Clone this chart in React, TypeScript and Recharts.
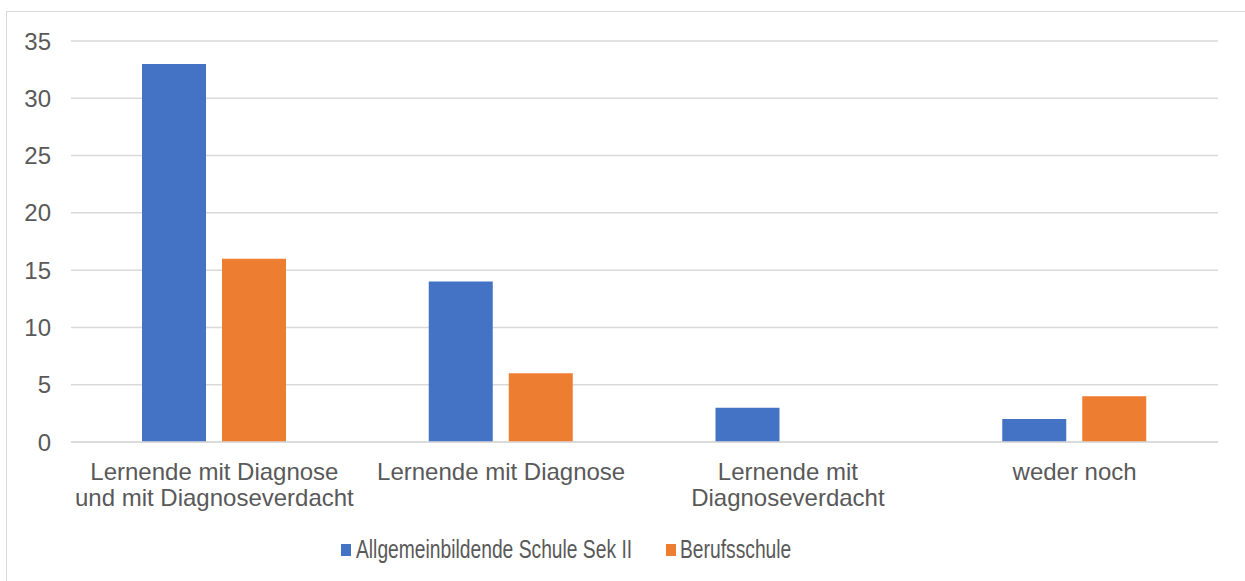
import React from "react";
import { BarChart, Bar, XAxis, YAxis, CartesianGrid, Legend } from "recharts";

const categories = [
  "Lernende mit Diagnose\nund mit Diagnoseverdacht",
  "Lernende mit Diagnose",
  "Lernende mit\nDiagnoseverdacht",
  "weder noch",
];
const seriesNames = ["Allgemeinbildende Schule Sek II", "Berufsschule"];
const sek2Values = [33, 14, 3, 2];
const berufsValues = [16, 6, 0, 4];
const yTicks = [0, 5, 10, 15, 20, 25, 30, 35];

const colors = ["#4472C4", "#ED7D31"];
const FONT = '"Liberation Sans", Arial, sans-serif';

const data = categories.map((c, i) => ({
  name: c,
  sek2: sek2Values[i],
  beruf: berufsValues[i],
}));

const XTick = (props: any) => {
  const { x, y, payload } = props;
  const lines = String(payload.value).split("\n");
  return (
    <text x={x} y={y} textAnchor="middle" fill="#595959" fontSize={24} fontFamily={FONT}>
      {lines.map((l, i) => (
        <tspan key={i} x={x} dy={i === 0 ? 30 : 26}>
          {l}
        </tspan>
      ))}
    </text>
  );
};

const LegendContent = () => {
  const items = [
    { name: seriesNames[0], color: colors[0], sq: 341, tx: 356 },
    { name: seriesNames[1], color: colors[1], sq: 666, tx: 680 },
  ];
  return (
    <div style={{ position: "relative", width: 1245, height: 40 }}>
      {items.map((it) => (
        <React.Fragment key={it.name}>
          <div
            style={{
              position: "absolute",
              left: it.sq,
              top: 15,
              width: 10,
              height: 12,
              background: it.color,
            }}
          />
          <div
            style={{
              position: "absolute",
              left: it.tx,
              top: 5,
              fontSize: 25,
              lineHeight: "30px",
              fontFamily: FONT,
              color: "#595959",
              whiteSpace: "nowrap",
              transform: "scaleX(0.77)",
              transformOrigin: "left center",
            }}
          >
            {it.name}
          </div>
        </React.Fragment>
      ))}
    </div>
  );
};

export default function App() {
  return (
    <div
      style={{
        position: "absolute",
        left: 0,
        top: 0,
        width: 1245,
        height: 581,
        overflow: "hidden",
        background: "#fff",
      }}
    >
      <div
        style={{
          position: "absolute",
          left: 6,
          top: 11,
          width: 1260,
          height: 600,
          border: "1px solid #D9D9D9",
          boxSizing: "border-box",
        }}
      />
      <div style={{ position: "absolute", left: 0, top: 0 }}>
        <BarChart
          width={1245}
          height={581}
          data={data}
          margin={{ top: 41, right: 27, left: 0, bottom: 12 }}
          barSize={64}
          barGap={16}
        >
          <CartesianGrid vertical={false} stroke="#D9D9D9" strokeWidth={1.5} />
          <XAxis
            dataKey="name"
            height={87}
            interval={0}
            tickLine={false}
            axisLine={{ stroke: "#D9D9D9", strokeWidth: 1.5 }}
            tick={<XTick />}
          />
          <YAxis
            width={71}
            domain={[0, 35]}
            ticks={yTicks}
            tickLine={false}
            axisLine={false}
            tickMargin={14}
            tick={{ fontSize: 24, fill: "#595959", fontFamily: FONT }}
          />
          <Legend verticalAlign="bottom" height={40} content={<LegendContent />} />
          <Bar dataKey="sek2" name={seriesNames[0]} fill={colors[0]} isAnimationActive={false} />
          <Bar dataKey="beruf" name={seriesNames[1]} fill={colors[1]} isAnimationActive={false} />
        </BarChart>
      </div>
    </div>
  );
}
